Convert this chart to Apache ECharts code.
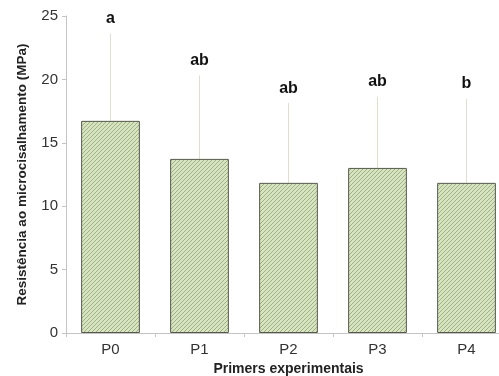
<!DOCTYPE html>
<html><head><meta charset="utf-8">
<script src="https://cdn.jsdelivr.net/npm/echarts@6/dist/echarts.min.js"></script>
<style>html,body{margin:0;padding:0;background:#fff;overflow:hidden}#c{width:499px;height:376px}</style>
</head><body><div id="c"></div>
<script>
var categories = ['P0', 'P1', 'P2', 'P3', 'P4'];
var means = [16.73, 13.73, 11.84, 13.02, 11.84];
var sdUpper = [6.89, 6.58, 6.29, 5.61, 6.63];
var letters = ['a', 'ab', 'ab', 'ab', 'b'];
var yTicks = [0, 5, 10, 15, 20, 25];

function makePattern() {
  var c = document.createElement('canvas');
  c.width = 4; c.height = 4;
  var g = c.getContext('2d');
  g.fillStyle = '#d7e4bf';
  g.fillRect(0, 0, 4, 4);
  g.fillStyle = '#9fb287';
  for (var i = 0; i < 4; i++) { g.fillRect(i, 3 - i, 1, 1); }
  return c;
}

var errData = categories.map(function (c, i) { return [i, means[i], means[i] + sdUpper[i], letters[i]]; });

var chart = echarts.init(document.getElementById('c'), null, {renderer: 'canvas'});
chart.setOption({
  animation: false,
  grid: {left: 66, width: 445, top: 16, height: 317, containLabel: false, outerBoundsMode: 'none'},
  xAxis: {
    type: 'category', data: categories,
    name: 'Primers experimentais', nameLocation: 'middle', nameGap: 28,
    nameTextStyle: {fontFamily: 'Liberation Sans', fontWeight: 'bold', fontSize: 14, color: '#222'},
    axisLine: {lineStyle: {color: '#c4c4c4'}},
    axisTick: {show: true, length: 4, lineStyle: {color: '#c4c4c4'}},
    axisLabel: {fontFamily: 'Liberation Sans', fontSize: 15, color: '#333', margin: 9}
  },
  yAxis: {
    type: 'value', min: yTicks[0], max: yTicks[yTicks.length - 1], interval: 5,
    name: 'Resistência ao microcisalhamento (MPa)', nameLocation: 'middle', nameGap: 37,
    nameTextStyle: {fontFamily: 'Liberation Sans', fontWeight: 'bold', fontSize: 13.5, color: '#222'},
    axisLine: {show: true, lineStyle: {color: '#c4c4c4'}},
    axisTick: {show: true, length: 4, lineStyle: {color: '#c4c4c4'}},
    splitLine: {show: false},
    axisLabel: {fontFamily: 'Liberation Sans', fontSize: 15, color: '#333', margin: 8}
  },
  series: [
    {
      type: 'bar', data: means, barCategoryGap: '34%',
      itemStyle: {color: {image: makePattern(), repeat: 'repeat'}, borderColor: '#555a4c', borderWidth: 1}
    },
    {
      type: 'custom', data: errData, z: 1,
      renderItem: function (params, api) {
        var x = api.value(0);
        var p0 = api.coord([x, api.value(1)]);
        var p1 = api.coord([x, api.value(2)]);
        return {
          type: 'group',
          children: [
            {type: 'line', shape: {x1: p0[0], y1: p0[1], x2: p1[0], y2: p1[1]}, style: {stroke: '#e2ddcc', lineWidth: 1}},
            {type: 'text', x: p1[0], y: p1[1] - 15, style: {text: api.value(3), fill: '#111', font: 'bold 16px "Liberation Sans"', textAlign: 'center', textVerticalAlign: 'middle'}}
          ]
        };
      }
    }
  ]
});
</script></body></html>
